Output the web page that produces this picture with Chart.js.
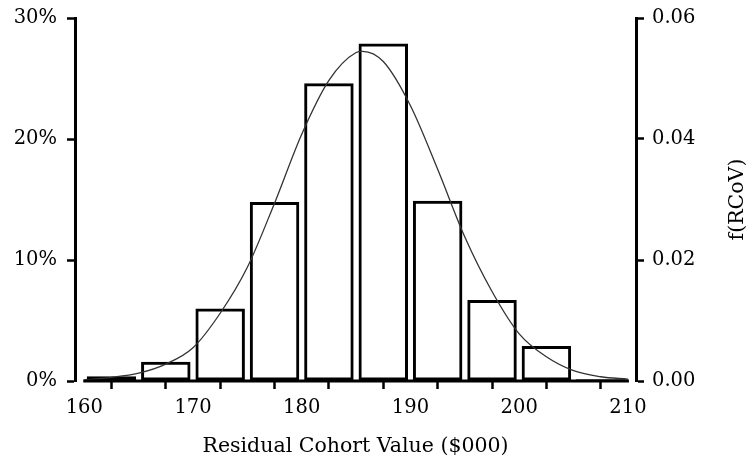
<!DOCTYPE html>
<html>
<head>
<meta charset="utf-8">
<script src="https://cdn.jsdelivr.net/npm/chart.js@4"></script>
<style>
  html, body { margin: 0; padding: 0; background: #fff; }
  #wrap { width: 749px; height: 468px; }
</style>
</head>
<body>
<div id="wrap"><canvas id="grafico" width="749" height="468"></canvas></div>
<script>
// Histogram bins (centres, $000) and share of cohort in each bin (%)
const binCenters = [162.5, 167.5, 172.5, 177.5, 182.5, 187.5, 192.5, 197.5, 202.5, 207.5];
const binPercents = [0.4, 1.6, 6.0, 14.8, 24.6, 27.9, 14.9, 6.7, 2.9, 0.15];

// Fitted density curve
const curveX = [160, 162.5, 165, 167.5, 170, 172.5, 175, 177.5, 180, 182.5, 185, 185.6, 187.5, 190, 192.5, 195, 197.5, 200, 202.5, 205, 207.5, 210];
const curveDensity = [0.0002, 0.0006, 0.0013, 0.0028, 0.0055, 0.0112, 0.0188, 0.0294, 0.0408, 0.0497, 0.0543, 0.0545, 0.0528, 0.0455, 0.0350, 0.0238, 0.0148, 0.0078, 0.0040, 0.0017, 0.0007, 0.0003];

// Tick labels
const xTicks = [160, 165, 170, 175, 180, 185, 190, 195, 200, 205, 210];
const leftTicks = [0, 10, 20, 30];
const rightTicks = [0, 0.02, 0.04, 0.06];

const xTitle = "Residual Cohort Value ($000)";
const rightTitle = "f(RCoV)";

Chart.defaults.font.family = "'DejaVu Serif', serif";
Chart.defaults.font.size = 19.5;
Chart.defaults.color = "#000";

// Axis line along the bottom (only from 160 to 210) and the right axis title
const extras = {
  id: "extras",
  afterDraw(chart) {
    const ctx = chart.ctx;
    const x = chart.scales.x;
    const area = chart.chartArea;
    ctx.save();
    ctx.strokeStyle = "#000";
    ctx.lineWidth = 3;
    ctx.beginPath();
    ctx.moveTo(x.getPixelForValue(xTicks[0]) - 1, area.bottom);
    ctx.lineTo(x.getPixelForValue(xTicks[xTicks.length - 1]) + 1, area.bottom);
    ctx.stroke();

    ctx.translate(738, (area.top + area.bottom) / 2);
    ctx.rotate(-Math.PI / 2);
    ctx.fillStyle = "#000";
    ctx.font = "20.5px 'DejaVu Serif', serif";
    ctx.textAlign = "center";
    ctx.textBaseline = "middle";
    ctx.fillText(rightTitle, 0, 0);
    ctx.restore();
  }
};

const tickGrid = {
  display: true,
  drawOnChartArea: false,
  drawTicks: true,
  tickLength: 8,
  tickWidth: 2.5,
  tickColor: "#000"
};

// fixed widths for the side axes, no extra padding above the top label
const fitSide = (w) => (s) => {
  s.width = w;
  s.paddingTop = 0;
  s.paddingBottom = 0;
};

new Chart(document.getElementById("grafico"), {
  type: "bar",
  data: {
    datasets: [
      {
        type: "line",
        label: "Densidad",
        data: curveX.map((v, i) => ({ x: v, y: curveDensity[i] })),
        yAxisID: "yR",
        borderColor: "#333",
        borderWidth: 1.3,
        pointRadius: 0,
        cubicInterpolationMode: "monotone",
        fill: false,
        order: 0
      },
      {
        type: "bar",
        label: "Histograma",
        data: binCenters.map((v, i) => ({ x: v, y: binPercents[i] })),
        yAxisID: "yL",
        backgroundColor: "rgba(255,255,255,0)",
        borderColor: "#000",
        borderWidth: 3,
        borderSkipped: false,
        barPercentage: 0.91,
        categoryPercentage: 1.0,
        order: 1
      }
    ]
  },
  options: {
    responsive: false,
    animation: false,
    layout: { padding: { top: 18, right: 0, bottom: 0, left: 0 } },
    plugins: { legend: { display: false }, tooltip: { enabled: false } },
    scales: {
      x: {
        type: "linear",
        min: 159.15,
        max: 210.74,
        offset: false,
        border: { display: false },
        grid: tickGrid,
        afterBuildTicks: (s) => { s.ticks = xTicks.map((v) => ({ value: v })); },
        afterFit: (s) => { s.height = 87; s.paddingLeft = 0; s.paddingRight = 0; },
        ticks: {
          autoSkip: false,
          maxRotation: 0,
          padding: 7,
          callback: (v) => (v % 10 === 0 ? String(v) : "")
        },
        title: {
          display: true,
          text: xTitle,
          font: { size: 20.5 },
          padding: { top: 4, bottom: 9 }
        }
      },
      yL: {
        type: "linear",
        position: "left",
        min: 0,
        max: 30,
        border: { display: true, width: 3, color: "#000" },
        grid: tickGrid,
        afterBuildTicks: (s) => { s.ticks = leftTicks.map((v) => ({ value: v })); },
        afterFit: fitSide(75),
        ticks: { padding: 10, callback: (v) => v + "%" }
      },
      yR: {
        type: "linear",
        position: "right",
        min: 0,
        max: 0.06,
        border: { display: true, width: 3, color: "#000" },
        grid: tickGrid,
        afterBuildTicks: (s) => { s.ticks = rightTicks.map((v) => ({ value: v })); },
        afterFit: fitSide(113),
        ticks: { padding: 8, callback: (v) => Number(v).toFixed(2) }
      }
    }
  },
  plugins: [extras]
});
</script>
</body>
</html>
